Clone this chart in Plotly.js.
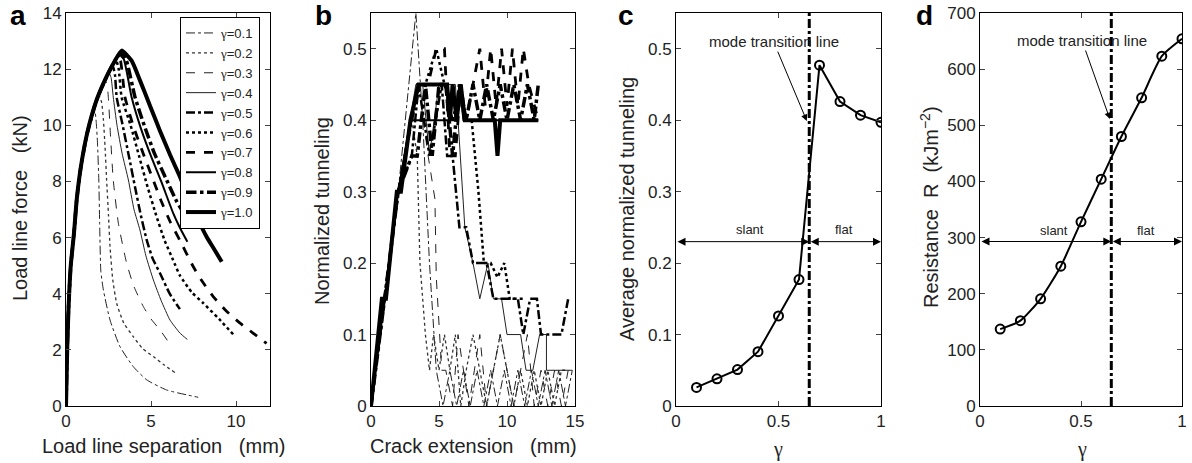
<!DOCTYPE html>
<html>
<head>
<meta charset="utf-8">
<script src="https://cdn.plot.ly/plotly-3.0.1.min.js"></script>
<style>
html,body{margin:0;padding:0;background:#fff;}
#chart{width:1192px;height:463px;}
</style>
</head>
<body>
<div id="chart"></div>
<script>
// ---------- Panel a: load line force vs load line separation ----------
const gammaLabels = ['γ=0.1','γ=0.2','γ=0.3','γ=0.4','γ=0.5','γ=0.6','γ=0.7','γ=0.8','γ=0.9','γ=1.0'];

const sepG01 = [0,0.07,0.15,0.28,0.47,0.63,0.88,1.25,1.5,1.7,1.78,1.85,1.93,1.98,2.05,2.2,2.59,3.18,3.96,4.75,5.92,7.78];
const forceG01 = [0,2,3.5,5,6.16,7.35,8.54,9.73,10.25,10.5,10.1,9.4,8.05,6.5,4.8,4.13,3.06,2.11,1.4,0.93,0.57,0.31];
const sepG02 = [0,0.07,0.15,0.28,0.47,0.63,0.88,1.25,1.6,1.95,2.1,2.2,2.3,2.39,2.5,2.59,2.75,2.98,3.4,3.96,4.5,5.14,5.8,6.41];
const forceG02 = [0,2,3.5,5,6.16,7.35,8.54,9.73,10.5,11.05,10.8,10.2,9.2,8.05,6.8,5.68,4.5,3.66,2.95,2.47,2.05,1.76,1.45,1.19];
const sepG03 = [0,0.07,0.15,0.28,0.47,0.63,0.88,1.25,1.8,2.25,2.4,2.49,2.62,2.78,3.08,3.57,4.0,4.55,5.0,5.53,6.22];
const forceG03 = [0,2,3.5,5,6.16,7.35,8.54,9.73,10.9,11.6,11.5,11.0,9.6,8.05,6.51,5.08,4.25,3.54,3.1,2.71,2.11];
const sepG04 = [0,0.07,0.15,0.28,0.47,0.63,0.88,1.25,1.8,2.5,2.65,2.78,3.0,3.3,3.67,4.0,4.35,4.7,5.14,5.6,6.12,6.7,7.14];
const forceG04 = [0,2,3.5,5,6.16,7.35,8.54,9.73,10.9,11.9,11.7,11.0,10.0,9.0,8.05,7.0,6.27,5.35,4.49,3.75,3.06,2.6,2.37];
const sepG05 = [0,0.07,0.15,0.28,0.47,0.63,0.88,1.25,1.8,2.4,2.75,2.88,2.98,3.3,3.7,4.06,4.4,4.75,5.1,5.53,6.1,6.7];
const forceG05 = [0,2,3.5,5,6.16,7.35,8.54,9.73,10.9,11.75,12.1,11.8,11.0,10.1,8.9,7.8,6.8,5.91,5.25,4.73,4.0,3.45];
const sepG06 = [0,0.07,0.15,0.28,0.47,0.63,0.88,1.25,1.8,2.4,2.95,3.1,3.27,3.8,4.3,4.8,5.3,5.8,6.3,6.7,7.4,8.08,9.0,9.84];
const forceG06 = [0,2,3.5,5,6.16,7.35,8.54,9.73,10.9,11.75,12.3,12.0,11.0,10.0,8.9,7.8,6.8,5.9,5.2,4.65,4.05,3.66,3.1,2.55];
const sepG07 = [0,0.07,0.15,0.28,0.47,0.63,0.88,1.25,1.8,2.4,2.88,3.05,3.2,3.47,4.0,4.6,5.1,5.6,6.1,6.7,7.49,8.0,8.66,9.4,10.24,11.0,11.8];
const forceG07 = [0,2,3.5,5,6.16,7.35,8.54,9.73,10.9,11.75,12.3,12.4,12.3,11.0,9.9,8.9,8.1,7.3,6.6,5.9,4.96,4.45,3.9,3.4,2.95,2.6,2.23];
const sepG08 = [0,0.07,0.15,0.28,0.47,0.63,0.88,1.25,1.8,2.4,2.88,3.15,3.4,3.86,4.4,5.0,5.6,6.31,6.7,7.14];
const forceG08 = [0,2,3.5,5,6.16,7.35,8.54,9.73,10.9,11.75,12.3,12.5,12.35,11.0,9.9,8.9,8.0,6.86,6.35,5.85];
const sepG09 = [0,0.07,0.15,0.28,0.47,0.63,0.88,1.25,1.8,2.4,2.88,3.2,3.5,4.06,4.6,5.2,5.92,6.5,7.0,7.29];
const forceG09 = [0,2,3.5,5,6.16,7.35,8.54,9.73,10.9,11.75,12.3,12.55,12.4,11.0,10.0,9.0,8.05,7.3,6.8,6.5];
const sepG10 = [0,0.07,0.15,0.28,0.47,0.63,0.88,1.25,1.8,2.4,2.88,3.27,3.86,4.35,4.94,5.53,6.12,6.7,7.29,7.8,8.27,8.7,9.16];
const forceG10 = [0,2,3.5,5,6.16,7.35,8.54,9.73,10.9,11.75,12.3,12.66,12.3,11.6,10.7,9.8,8.95,8.17,7.3,6.6,6.03,5.6,5.14];

// ---------- Panel b: normalized tunneling vs crack extension ----------
const crackG01 = [0,1,2,3.3,3.8,4.3,4.8,5.3,5.8,6.3,6.8,7.3,7.8,8.3,8.8,9.3,9.8,10.3,10.8,11.3,11.8,12.3,12.8,13.3,13.8,14.3,14.8];
const tunnelG01 = [0,0.15,0.3,0.55,0.4,0.2,0.05,0,0.05,0,0.05,0,0.05,0,0.05,0,0.05,0,0.05,0,0.05,0,0.05,0,0.05,0,0.05];
const crackG02 = [0,1,2,3,3.4,3.6,3.8,4.0,4.3,4.6,5.0,5.4,5.8,6.2,6.6,7.0,7.5,8.0,8.5,9.0,9.5,10.0,10.5,11.0,11.5,12.0,12.5,13.0,13.5,14.0,14.5];
const tunnelG02 = [0,0.15,0.3,0.4,0.35,0.2,0.15,0.1,0.05,0.1,0.05,0.1,0.05,0.1,0,0.05,0.1,0.05,0,0.05,0.1,0.05,0,0.05,0,0.05,0,0.05,0,0.05,0.05];
const crackG03 = [0,1,2,3,3.5,4.2,4.7,4.8,5.2,5.5,6.0,6.4,6.8,7.2,7.6,8.0,8.5,9.0,9.5,10.0,10.5,11.0,11.5,12.0,12.5,13.0,13.5,14.0,14.5];
const tunnelG03 = [0,0.15,0.3,0.4,0.45,0.35,0.29,0.18,0.05,0.05,0,0.1,0.05,0,0.05,0.1,0,0.05,0.1,0.05,0,0.05,0.1,0,0.05,0,0.05,0,0.05];
const crackG04 = [0,1,2,3.3,3.8,4.3,5.0,6.2,6.4,6.9,7.5,8.0,8.6,9.0,9.6,10.0,11.0,11.4,11.9,12.4,12.9,12.9,14.8];
const tunnelG04 = [0,0.15,0.3,0.45,0.45,0.35,0.45,0.45,0.4,0.25,0.2,0.15,0.2,0.15,0.15,0.1,0.1,0.05,0.05,0.1,0.1,0.05,0.05];
const crackG05 = [0,1,2,3.0,3.5,4.3,5.2,5.6,6.0,6.5,7.0,7.5,8.2,8.5,9.0,10.0,10.8,11.2,11.7,12.2,12.5,14.0,14.5];
const tunnelG05 = [0,0.15,0.3,0.35,0.45,0.35,0.45,0.35,0.35,0.25,0.25,0.2,0.2,0.2,0.15,0.15,0.15,0.1,0.15,0.15,0.1,0.1,0.15];
const crackG06 = [0,1,2,3.0,3.4,4.0,4.8,5.4,6.0,6.6,7.0,7.4,7.9,8.3,8.8,9.3,9.8,10.2,10.8,11.2];
const tunnelG06 = [0,0.15,0.3,0.4,0.45,0.45,0.5,0.45,0.4,0.45,0.4,0.4,0.3,0.2,0.2,0.18,0.2,0.15,0.15,0.15];
const crackG07 = [0,1,2,3.0,3.6,4.2,4.8,5.4,5.8,6.2,6.6,7.0,7.5,8.0,8.4,8.8,9.2,9.6,10.0,10.4,10.8,11.2,11.6,12.0,12.3];
const tunnelG07 = [0,0.15,0.3,0.4,0.45,0.45,0.5,0.5,0.35,0.35,0.45,0.4,0.45,0.5,0.42,0.5,0.42,0.5,0.42,0.5,0.42,0.5,0.45,0.42,0.4];
const crackG08 = [0,1,2,2.9,6.2,6.5,6.8,12.3];
const tunnelG08 = [0,0.15,0.3,0.4,0.4,0.45,0.4,0.4];
const crackG09 = [0,1,2,3.0,3.4,4.0,4.5,5.0,5.5,6.0,6.5,7.0,7.5,8.0,8.5,9.0,9.5,10.0,10.5,11.0,11.5,12.0,12.3];
const tunnelG09 = [0,0.15,0.3,0.35,0.35,0.45,0.35,0.45,0.45,0.35,0.45,0.4,0.45,0.4,0.45,0.4,0.45,0.4,0.45,0.4,0.45,0.4,0.45];
const crackG10 = [0,0.8,1.1,1.9,2.2,2.9,3.5,5.6,5.8,6.0,6.3,6.6,6.9,7.2,9.1,9.3,9.5,12.3];
const tunnelG10 = [0,0.15,0.15,0.3,0.3,0.4,0.45,0.45,0.4,0.45,0.4,0.45,0.4,0.4,0.4,0.35,0.4,0.4];

// ---------- Panels c and d ----------
const gammaValues = [0.1,0.2,0.3,0.4,0.5,0.6,0.7,0.8,0.9,1.0];
const avgTunneling = [0.026,0.038,0.051,0.076,0.126,0.177,0.477,0.426,0.407,0.397];
const resistanceR = [137,152,191,249,328,404,480,549,623,654];
const transitionGamma = 0.65;
const slantArrowTunneling = 0.23;
const slantArrowResistance = 293;

const styles = [
  {dash:'dashdot', width:1, color:'#222'},
  {dash:'dot', width:1.3, color:'#333'},
  {dash:'dash', width:1, color:'#222'},
  {dash:'solid', width:1, color:'#222'},
  {dash:'dashdot', width:2.5, color:'#000'},
  {dash:'dot', width:2.5, color:'#000'},
  {dash:'dash', width:2.8, color:'#000'},
  {dash:'solid', width:2, color:'#000'},
  {dash:'dashdot', width:3.5, color:'#000'},
  {dash:'solid', width:4, color:'#000'}
];

const SERIF = 'Liberation Serif, DejaVu Serif, serif';
const SANS = 'Liberation Sans, Arial, sans-serif';
const g = (s) => s.replace('γ', '<span style="font-family:' + SERIF + '">γ</span>');

const aX = [sepG01,sepG02,sepG03,sepG04,sepG05,sepG06,sepG07,sepG08,sepG09,sepG10];
const aY = [forceG01,forceG02,forceG03,forceG04,forceG05,forceG06,forceG07,forceG08,forceG09,forceG10];
const bX = [crackG01,crackG02,crackG03,crackG04,crackG05,crackG06,crackG07,crackG08,crackG09,crackG10];
const bY = [tunnelG01,tunnelG02,tunnelG03,tunnelG04,tunnelG05,tunnelG06,tunnelG07,tunnelG08,tunnelG09,tunnelG10];

const traces = [];
for (let i = 0; i < 10; i++) {
  traces.push({x:aX[i], y:aY[i], xaxis:'x', yaxis:'y', mode:'lines', name:g(gammaLabels[i]),
    line:{dash:styles[i].dash, width:styles[i].width, color:styles[i].color, shape:'spline', smoothing:0.5},
    showlegend:true});
}
for (let i = 0; i < 10; i++) {
  traces.push({x:bX[i], y:bY[i], xaxis:'x2', yaxis:'y2', mode:'lines', name:gammaLabels[i],
    line:{dash:styles[i].dash, width:styles[i].width, color:styles[i].color},
    showlegend:false});
}
// transition lines
traces.push({x:[transitionGamma, transitionGamma], y:[0,0.55], xaxis:'x3', yaxis:'y3', mode:'lines',
  line:{dash:'dashdot', width:3, color:'#000'}, showlegend:false});
traces.push({x:[transitionGamma, transitionGamma], y:[0,700], xaxis:'x4', yaxis:'y4', mode:'lines',
  line:{dash:'dashdot', width:3, color:'#000'}, showlegend:false});
// c curve
traces.push({x:gammaValues, y:avgTunneling, xaxis:'x3', yaxis:'y3', mode:'lines+markers',
  line:{color:'#000', width:2}, marker:{symbol:'circle-open', size:9, color:'#000', line:{width:2, color:'#000'}},
  showlegend:false});
// d curve
traces.push({x:gammaValues, y:resistanceR, xaxis:'x4', yaxis:'y4', mode:'lines+markers',
  line:{color:'#000', width:2, shape:'spline', smoothing:0.6}, marker:{symbol:'circle-open', size:9, color:'#000', line:{width:2, color:'#000'}},
  showlegend:false});

const W = 1192, H = 463;
const yDom = [(H-406)/H, (H-13)/H];
const tickFont = {family:SANS, size:17, color:'#222'};
function ax(domain, range, dtick, extra) {
  return Object.assign({domain:domain, range:range, dtick:dtick, tick0:0, showline:true, mirror:'ticks',
    linecolor:'#000', linewidth:1, ticks:'inside', ticklen:5, tickcolor:'#444', showgrid:false, zeroline:false,
    tickfont:tickFont, fixedrange:true, ticklabeloverflow:'allow'}, extra||{});
}

const layout = {
  width:W, height:H, margin:{l:0, r:0, t:0, b:0}, paper_bgcolor:'#fff', plot_bgcolor:'#fff',
  font:{family:SANS, color:'#222'},
  xaxis: ax([66/W, 270/W], [0,12], 5, {anchor:'y'}),
  yaxis: ax(yDom, [0,14], 2, {anchor:'x'}),
  xaxis2: ax([371/W, 575/W], [0,15], 5, {anchor:'y2'}),
  yaxis2: ax(yDom, [0,0.55], 0.1, {anchor:'x2'}),
  xaxis3: ax([676/W, 881/W], [0,1], 0.5, {anchor:'y3'}),
  yaxis3: ax(yDom, [0,0.55], 0.1, {anchor:'x3'}),
  xaxis4: ax([980/W, 1182/W], [0,1], 0.5, {anchor:'y4'}),
  yaxis4: ax(yDom, [0,700], 100, {anchor:'x4'}),
  legend:{x:180/W, y:(H-17)/H, xanchor:'left', yanchor:'top', bgcolor:'#fff', bordercolor:'#000', borderwidth:1,
    font:{size:13, color:'#222', family:SANS}, tracegroupgap:0, itemwidth:30},
  annotations:[]
};

const A = layout.annotations;
const tf = (s)=>({family:SANS, size:s, color:'#222'});
function ptxt(text, px, py, size, angle, bold) {
  A.push({text: bold ? '<b>'+text+'</b>' : text, xref:'paper', yref:'paper', x:px/W, y:(H-py)/H,
    xanchor:'center', yanchor:'middle', showarrow:false, textangle:angle||0,
    font:{family:SANS, size:size, color: bold ? '#000' : '#222'}});
}
// panel letters
ptxt('a', 18, 16, 28, 0, true);
ptxt('b', 323, 16, 28, 0, true);
ptxt('c', 626, 16, 28, 0, true);
ptxt('d', 925, 16, 28, 0, true);
// axis titles
ptxt('Load line force   (kN)', 20, 208, 20, -90);
ptxt('Load line separation   (mm)', 163, 446, 20);
ptxt('Normalized tunneling', 322, 211, 20, -90);
ptxt('Crack extension   (mm)', 473, 446, 20);
ptxt('Average normalized tunneling', 627, 209, 20, -90);
ptxt(g('γ'), 778, 449, 20);
ptxt('Resistance  R  (kJm<sup>−2</sup>)', 930, 207, 20, -90);
ptxt(g('γ'), 1082, 449, 20);

// mode transition annotations
A.push({text:'mode transition line', xref:'x3', yref:'y3', x:0.638, y:0.399, axref:'x3', ayref:'y3', ax:0.476, ay:0.51,
  showarrow:true, arrowhead:2, arrowsize:1.3, arrowwidth:1, arrowcolor:'#000', font:tf(15)});
A.push({text:'mode transition line', xref:'x4', yref:'y4', x:0.643, y:511, axref:'x4', ayref:'y4', ax:0.505, ay:651,
  showarrow:true, arrowhead:2, arrowsize:1.3, arrowwidth:1, arrowcolor:'#000', font:tf(15)});
// slant/flat arrows
function dbl(xr, yr, x0, x1, y) {
  A.push({text:'', xref:xr, yref:yr, x:x1, y:y, axref:xr, ayref:yr, ax:x0, ay:y, showarrow:true,
    arrowhead:2, startarrowhead:2, arrowside:'end+start', arrowsize:1.6, startarrowsize:1.6, arrowwidth:1, arrowcolor:'#000'});
}
dbl('x3','y3', 0, transitionGamma, slantArrowTunneling);
dbl('x3','y3', transitionGamma, 1, slantArrowTunneling);
dbl('x4','y4', 0, transitionGamma, slantArrowResistance);
dbl('x4','y4', transitionGamma, 1, slantArrowResistance);
A.push({text:'slant', xref:'x3', yref:'y3', x:0.36, y:0.247, showarrow:false, font:tf(13)});
A.push({text:'flat', xref:'x3', yref:'y3', x:0.818, y:0.247, showarrow:false, font:tf(13)});
A.push({text:'slant', xref:'x4', yref:'y4', x:0.365, y:312, showarrow:false, font:tf(13)});
A.push({text:'flat', xref:'x4', yref:'y4', x:0.822, y:312, showarrow:false, font:tf(13)});

Plotly.newPlot('chart', traces, layout, {staticPlot:true, displayModeBar:false});
</script>
</body>
</html>
